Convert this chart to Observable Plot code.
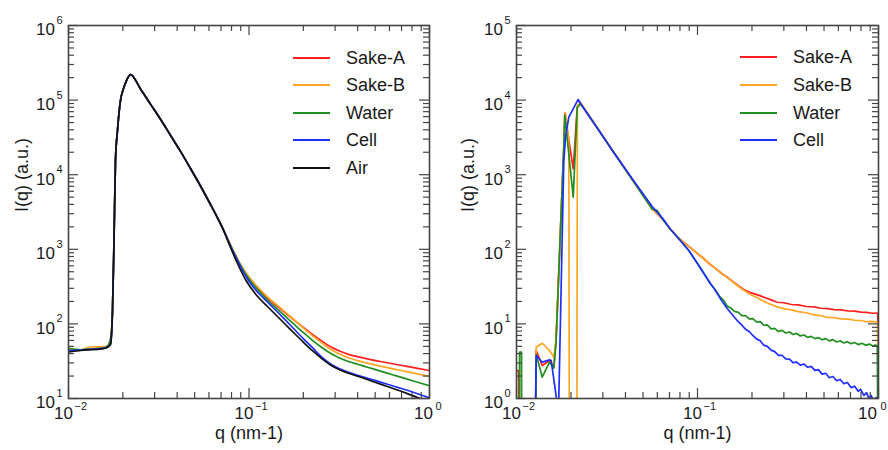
<!DOCTYPE html>
<html>
<head>
<meta charset="utf-8">
<script src="https://cdn.jsdelivr.net/npm/d3@7"></script>
<script src="https://cdn.jsdelivr.net/npm/@observablehq/plot@0.6"></script>
<style>
  html, body { margin: 0; padding: 0; background: #fff; }
  #wrap { position: relative; width: 888px; height: 450px; display: flex; }
  .panel { position: relative; width: 444px; height: 450px; }
  .lg-line { position: absolute; height: 2px; }
  .lg-text { position: absolute; font-family: 'Liberation Sans', Arial, Helvetica, sans-serif; font-size: 18px; line-height: 20px; color: #1a1a1a; white-space: nowrap; }
</style>
</head>
<body>
<div id="wrap"></div>
<script>
// ---------- categories & styling ----------
const seriesLeft = ["Sake-A", "Sake-B", "Water", "Cell", "Air"];
const seriesRight = ["Sake-A", "Sake-B", "Water", "Cell"];
const seriesColors = ["#ff1f1f", "#ffa522", "#1f8f1f", "#1f2fff", "#111111"];

// ---------- tick labels ----------
const xMajor = [0.01, 0.1, 1];
const xExps = ["\u22122", "\u22121", "0"];
const xMinor = [0.02, 0.03, 0.04, 0.05, 0.06, 0.07, 0.08, 0.09, 0.2, 0.3, 0.4, 0.5, 0.6, 0.7, 0.8, 0.9];
const yMajorLeft = [10, 100, 1000, 10000, 100000, 1000000];
const yExpsLeft = ["1", "2", "3", "4", "5", "6"];
const yMajorRight = [1, 10, 100, 1000, 10000, 100000];
const yExpsRight = ["0", "1", "2", "3", "4", "5"];
const minorMultipliers = [2, 3, 4, 5, 6, 7, 8, 9];

// ---------- left panel data ----------
// low-q plateau, [q, I]
const leftStartSakeA = [[0.0100, 44], [0.0117, 44.5], [0.0132, 46], [0.0150, 47], [0.0162, 48.5], [0.0171, 56]];
const leftStartSakeB = [[0.0100, 44], [0.0117, 45], [0.0132, 49], [0.0150, 49.5], [0.0162, 50], [0.0171, 63]];
const leftStartWater = [[0.0100, 47], [0.0117, 45], [0.0132, 46], [0.0150, 47], [0.0162, 49], [0.0171, 63]];
const leftStartCell  = [[0.0100, 44], [0.0117, 44.5], [0.0132, 45.5], [0.0150, 46.5], [0.0162, 48], [0.0171, 54]];
const leftStartAir   = [[0.0100, 42], [0.0117, 44], [0.0132, 45], [0.0150, 46], [0.0162, 47.5], [0.0171, 53]];
// rise, peak and main decay shared by all samples, [q, I]
const leftShared = [[0.01753, 151], [0.01787, 1312], [0.01821, 15500], [0.01868, 39100], [0.01941, 98900],
  [0.02017, 143000], [0.02096, 183000], [0.02206, 220000], [0.02506, 140800], [0.02846, 88400],
  [0.03234, 55300], [0.03673, 33750], [0.04174, 20530], [0.04742, 12110], [0.05387, 7054],
  [0.06118, 3986], [0.06607, 2803], [0.07132, 1936]];
// high-q tails: common q grid and one intensity list per sample
const leftTailQ = [0.0790, 0.0874, 0.0956, 0.1045, 0.1143, 0.1266, 0.1420, 0.1593, 0.1787, 0.2003, 0.2247,
  0.2522, 0.2828, 0.3173, 0.3557, 0.4043, 0.4592, 0.5353, 0.6237, 0.7362, 0.8580, 1.0];
const leftTailSakeA = [1138, 695, 481, 363, 286.5, 223.8, 176.4, 140.0, 111.7, 89.5, 72.3,
  59.2, 49.3, 43.3, 39.1, 36.1, 33.7, 31.3, 29.2, 27.2, 25.4, 23.7];
const leftTailSakeB = [1138, 695, 496, 374, 295, 230, 181, 143, 113, 87.6, 69.5,
  56.0, 45.6, 39.5, 35.1, 31.9, 29.5, 27.1, 25.0, 23.1, 21.4, 19.8];
const leftTailWater = [1124, 686, 467, 348, 272, 209, 162, 125.7, 97.6, 76.2, 60.3,
  48.6, 40.3, 34.9, 31.3, 28.6, 26.0, 23.3, 20.8, 18.5, 16.5, 14.8];
const leftTailCell = [1107, 665, 445.5, 322, 251.7, 196.6, 148.9, 112.1, 84.1, 63.1, 48.0,
  36.0, 29.0, 25.0, 22.4, 20.3, 18.5, 16.6, 14.8, 13.1, 11.6, 10.2];
const leftTailAir = [1057, 606.5, 393.8, 284.7, 219, 171.1, 129.6, 98.2, 74.3, 56.7, 43.7,
  34.5, 28.2, 24.3, 21.8, 19.7, 17.7, 15.6, 13.7, 11.9, 10.3, 8.95];

// ---------- right panel data: [q, I] ----------
const rightStartSakeA = [[0.0100, 2.37], [0.01026, 2.37], [0.01045, 0.01], [0.01257, 0.01], [0.01285, 4.4],
  [0.01387, 2.77], [0.01521, 3.23], [0.01607, 2.63], [0.01653, 6.0], [0.01678, 13.8], [0.01749, 178],
  [0.01825, 2317], [0.01849, 6600], [0.02058, 1200], [0.02165, 7950]];
const rightStartSakeB = [[0.0100, 0.01], [0.01257, 0.01], [0.01285, 4.9], [0.01387, 5.5], [0.01521, 4.4],
  [0.01607, 3.6], [0.01653, 6.0], [0.01678, 13.8], [0.01749, 178], [0.01825, 2317], [0.01865, 6800],
  [0.01945, 2960], [0.01963, 0.01], [0.02150, 0.01], [0.02170, 8500]];
const rightStartWater = [[0.0100, 0.01], [0.01036, 0.01], [0.01040, 4.2], [0.01066, 4.2], [0.01070, 0.01],
  [0.01257, 0.01], [0.01285, 3.9], [0.01387, 1.93], [0.01521, 3.07], [0.01607, 2.55], [0.01653, 5.5],
  [0.01678, 13.8], [0.01749, 178], [0.01825, 2317], [0.01849, 6300], [0.02058, 500], [0.02165, 7950]];
const rightStartCell = [[0.0100, 0.01], [0.01241, 0.01], [0.01285, 3.77], [0.01387, 3.07], [0.01521, 3.3],
  [0.01555, 3.23], [0.01663, 1.0], [0.01680, 0.01], [0.01700, 0.01], [0.01713, 1.0], [0.01825, 1500],
  [0.01865, 3170], [0.01945, 5900], [0.02192, 10200]];

const rightMainSakeA = [[0.02257, 9000], [0.0280, 4190], [0.03448, 1985], [0.0450, 769], [0.0562, 349], [0.0641, 254], [0.0709, 184], [0.0778, 144]];
const rightMainSakeB = [[0.02257, 9300], [0.0280, 4250], [0.03448, 1985], [0.0450, 769], [0.0562, 352], [0.0641, 256], [0.0709, 186], [0.0778, 145]];
const rightMainWater = [[0.02257, 9000], [0.0280, 4190], [0.03448, 1985], [0.0450, 769], [0.0562, 345], [0.0600, 330], [0.0641, 254], [0.0709, 184], [0.0778, 144]];
const rightMainCell  = [[0.02257, 9000], [0.0280, 4190], [0.03448, 1985], [0.0450, 790], [0.0562, 375], [0.0641, 260], [0.0709, 186], [0.0778, 144]];

const rightTailSakeA = [[0.085, 121], [0.0925, 103], [0.1004, 87], [0.108, 75.3], [0.116, 64.5], [0.125, 55.8],
  [0.135, 48.1], [0.1459, 42.3], [0.155, 37.8], [0.165, 33.6], [0.1819, 28.5], [0.1963, 26.3], [0.215, 24.5],
  [0.235, 22.6], [0.255, 21.0], [0.2756, 19.5], [0.30, 19.2], [0.33, 18.2], [0.36, 18.0], [0.40, 17.1],
  [0.44, 16.9], [0.48, 16.2], [0.5206, 16.0], [0.57, 15.5], [0.62, 15.4], [0.68, 14.9], [0.74, 14.8],
  [0.80, 14.4], [0.86, 14.3], [0.92, 13.9], [0.99, 14.0], [1.0, 0.01]];
const rightTailSakeB = [[0.085, 121], [0.0925, 103], [0.1004, 87], [0.108, 75.3], [0.116, 64.5], [0.125, 55.8],
  [0.135, 48.1], [0.1459, 42.0], [0.155, 37.3], [0.165, 33.0], [0.1819, 27.8], [0.1963, 24.8], [0.215, 22.2],
  [0.235, 19.8], [0.255, 18.2], [0.2756, 16.9], [0.30, 16.0], [0.33, 15.4], [0.36, 14.6], [0.40, 14.1],
  [0.44, 13.2], [0.48, 12.9], [0.5206, 12.2], [0.57, 12.1], [0.62, 11.7], [0.68, 11.6], [0.74, 11.2],
  [0.80, 11.1], [0.86, 10.7], [0.92, 10.8], [0.99, 10.5], [1.0, 0.01]];
const rightTailWater = [[0.0895, 96.4], [0.1004, 63.5], [0.118, 34.5], [0.125, 28.9], [0.132, 23.6], [0.139, 20.9],
  [0.146, 17.3], [0.153, 16.3], [0.160, 14.7], [0.168, 14.3], [0.176, 12.9], [0.184, 12.9], [0.193, 11.7],
  [0.202, 11.8], [0.212, 10.6], [0.222, 10.7], [0.232, 9.6], [0.243, 9.7], [0.255, 8.6], [0.267, 8.7],
  [0.280, 7.9], [0.293, 8.2], [0.307, 7.55], [0.322, 7.8], [0.337, 7.2], [0.353, 7.45], [0.370, 6.9],
  [0.388, 7.1], [0.406, 6.6], [0.425, 6.8], [0.445, 6.35], [0.466, 6.55], [0.488, 6.12], [0.511, 6.35],
  [0.535, 5.92], [0.560, 6.15], [0.587, 5.72], [0.614, 5.95], [0.643, 5.55], [0.673, 5.78], [0.705, 5.42],
  [0.738, 5.63], [0.773, 5.28], [0.81, 5.5], [0.85, 5.16], [0.89, 5.36], [0.93, 5.05], [0.96, 5.2],
  [0.985, 5.1], [1.0, 0.01]];
const rightTailCell = [[0.0895, 96.4], [0.1004, 63.5], [0.118, 34.5], [0.125, 28.6], [0.132, 23.0], [0.139, 19.0],
  [0.146, 16.1], [0.153, 14.0], [0.160, 12.3], [0.168, 10.7], [0.176, 9.6], [0.184, 8.5], [0.193, 7.9],
  [0.202, 7.0], [0.212, 6.3], [0.222, 5.95], [0.232, 5.2], [0.243, 5.0], [0.255, 4.45], [0.267, 4.25],
  [0.280, 3.78], [0.293, 3.80], [0.307, 3.40], [0.322, 3.38], [0.337, 3.02], [0.353, 3.08], [0.370, 2.80],
  [0.388, 2.90], [0.406, 2.62], [0.425, 2.70], [0.445, 2.38], [0.466, 2.44], [0.488, 2.12], [0.511, 2.18],
  [0.535, 1.90], [0.560, 1.97], [0.587, 1.73], [0.614, 1.80], [0.643, 1.58], [0.673, 1.64], [0.705, 1.40],
  [0.738, 1.46], [0.773, 1.25], [0.795, 1.33], [0.830, 1.10], [0.860, 1.20], [0.884, 1.0], [0.910, 1.10],
  [0.940, 0.93], [0.970, 1.03], [1.0, 0.9]];

// ---------- build tables ----------
function toRows(name, ...parts) {
  return parts.flat().map(([q, I]) => ({series: name, q, I}));
}
const zipTail = (I) => leftTailQ.map((q, i) => [q, I[i]]);
const leftRows = [
  ...toRows("Sake-A", leftStartSakeA, leftShared, zipTail(leftTailSakeA)),
  ...toRows("Sake-B", leftStartSakeB, leftShared, zipTail(leftTailSakeB)),
  ...toRows("Water", leftStartWater, leftShared, zipTail(leftTailWater)),
  ...toRows("Cell", leftStartCell, leftShared, zipTail(leftTailCell)),
  ...toRows("Air", leftStartAir, leftShared, zipTail(leftTailAir))
];
const rightRows = [
  ...toRows("Sake-A", rightStartSakeA, rightMainSakeA, rightTailSakeA),
  ...toRows("Sake-B", rightStartSakeB, rightMainSakeB, rightTailSakeB),
  ...toRows("Water", rightStartWater, rightMainWater, rightTailWater),
  ...toRows("Cell", rightStartCell, rightMainCell, rightTailCell)
];

const FONT = "'Liberation Sans', Arial, Helvetica, sans-serif";
const W = 444, H = 450, MT = 25, MB = 52;
const AXIS = "#444";

function drawPanel(cfg) {
  const frameH = H - MT - MB;
  const frameW = W - cfg.ml - cfg.mr;
  const yMinor = cfg.yMajor.slice(0, -1).flatMap(d => minorMultipliers.map(m => d * m));
  const tk = {stroke: AXIS, strokeWidth: 1.2};
  const xFirst = xMajor.slice(0, -1), xLast = xMajor.slice(-1);
  const eFirst = xExps.slice(0, -1), eLast = xExps.slice(-1);
  const svg = Plot.plot({
    width: W, height: H,
    marginTop: MT, marginBottom: MB, marginLeft: cfg.ml, marginRight: cfg.mr,
    style: {fontFamily: FONT, fontSize: "17px", color: "#1a1a1a", background: "#fff", overflow: "visible"},
    x: {type: "log", domain: [0.01, 1]},
    y: {type: "log", domain: cfg.yDomain},
    color: {domain: cfg.series, range: seriesColors.slice(0, cfg.series.length)},
    marks: [
      Plot.line(cfg.rows, {x: "q", y: "I", z: "series", stroke: "series", strokeWidth: 1.7, curve: cfg.curve, clip: true}),
      Plot.ruleX(xMajor, {x: d => d, insetTop: frameH - 10, ...tk}),
      Plot.ruleX(xMajor, {x: d => d, insetBottom: frameH - 10, ...tk}),
      Plot.ruleX(xMinor, {x: d => d, insetTop: frameH - 6, ...tk}),
      Plot.ruleX(xMinor, {x: d => d, insetBottom: frameH - 6, ...tk}),
      Plot.ruleY(cfg.yMajor, {y: d => d, insetRight: frameW - 10, ...tk}),
      Plot.ruleY(cfg.yMajor, {y: d => d, insetLeft: frameW - 10, ...tk}),
      Plot.ruleY(yMinor, {y: d => d, insetRight: frameW - 6, ...tk}),
      Plot.ruleY(yMinor, {y: d => d, insetLeft: frameW - 6, ...tk}),
      Plot.frame({stroke: AXIS, strokeWidth: 1.6}),
      Plot.axisX(xFirst, {tickFormat: () => "10", tickSize: 0, tickPadding: 8, dx: -5, fontSize: 17, label: null}),
      Plot.axisX(xLast, {tickFormat: () => "10", tickSize: 0, tickPadding: 8, dx: cfg.lastDx, fontSize: 17, label: null}),
      Plot.text(xFirst, {x: d => d, frameAnchor: "bottom", text: eFirst, dx: 6, dy: 4, lineAnchor: "top", textAnchor: "start", fontSize: 11}),
      Plot.text(xLast, {x: d => d, frameAnchor: "bottom", text: eLast, dx: cfg.lastExpDx, dy: 4, lineAnchor: "top", textAnchor: "start", fontSize: 11}),
      Plot.axisY(cfg.yMajor, {tickFormat: () => "10", tickSize: 0, tickPadding: 13.5, dy: 4.5, fontSize: 17, label: null}),
      Plot.text(cfg.yMajor, {y: d => d, frameAnchor: "left", text: cfg.yExps, dx: -12, dy: -5, textAnchor: "start", fontSize: 11}),
      Plot.text(["q (nm-1)"], {frameAnchor: "bottom", text: d => d, dy: 40, fontSize: 18}),
      Plot.text(["I(q) (a.u.)"], {frameAnchor: "left", text: d => d, dx: cfg.ylabelDx, rotate: -90, fontSize: 18})
    ]
  });
  const div = document.createElement("div");
  div.className = "panel";
  div.appendChild(svg);
  cfg.series.forEach((name, i) => {
    const yc = cfg.legendY0 + i * cfg.legendStep;
    const ln = document.createElement("div");
    ln.className = "lg-line";
    ln.style.left = cfg.legendLineX + "px";
    ln.style.width = "37px";
    ln.style.top = (yc - 1) + "px";
    ln.style.background = seriesColors[i];
    div.appendChild(ln);
    const tx = document.createElement("div");
    tx.className = "lg-text";
    tx.style.left = cfg.legendTextX + "px";
    tx.style.top = (yc - 10) + "px";
    tx.textContent = name;
    div.appendChild(tx);
  });
  return div;
}

const wrap = document.getElementById("wrap");
wrap.appendChild(drawPanel({
  rows: leftRows, series: seriesLeft, yDomain: [10, 1e6], yMajor: yMajorLeft, yExps: yExpsLeft,
  ml: 68, mr: 15, ylabelDx: -46, curve: "monotone-x", lastDx: -6, lastExpDx: 6,
  legendY0: 57.7, legendStep: 27.5, legendLineX: 293, legendTextX: 346
}));
wrap.appendChild(drawPanel({
  rows: rightRows, series: seriesRight, yDomain: [1, 1e5], yMajor: yMajorRight, yExps: yExpsRight,
  ml: 72, mr: 10, ylabelDx: -48, curve: "linear", lastDx: -11, lastExpDx: 2,
  legendY0: 57.3, legendStep: 27.6, legendLineX: 296, legendTextX: 349
}));
</script>
</body>
</html>
